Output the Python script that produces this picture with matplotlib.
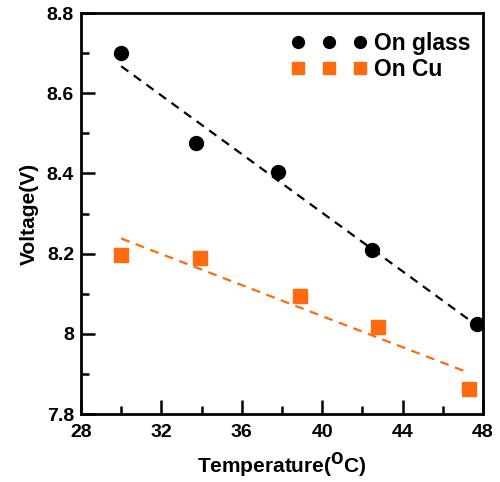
import numpy as np
import matplotlib
matplotlib.use("Agg")
import matplotlib.pyplot as plt
from matplotlib.ticker import MultipleLocator

plt.rcParams['font.family'] = ['Liberation Sans', 'DejaVu Sans']
plt.rcParams['font.weight'] = 'bold'

glass_T = [30.0, 33.7, 37.8, 42.5, 47.7]
glass_V = [8.700, 8.476, 8.404, 8.209, 8.024]
cu_T = [30.0, 33.9, 38.9, 42.8, 47.3]
cu_V = [8.196, 8.189, 8.094, 8.017, 7.862]

orange = '#FF6A10'

fig = plt.figure(figsize=(5.0, 4.82), dpi=100)
ax = fig.add_axes([0.162, 0.141, 0.804, 0.832])

ax.plot(glass_T, glass_V, 'o', color='black', markersize=10, label='On glass', linestyle='none')
ax.plot(cu_T, cu_V, 's', color=orange, markersize=9.5, label='On Cu', linestyle='none')

for T, V, c in [(glass_T, glass_V, 'black'), (cu_T, cu_V, orange)]:
    p = np.polyfit(T, V, 1)
    xs = np.array([T[0], T[-1]])
    ax.plot(xs, np.polyval(p, xs), '--', color=c, lw=1.6, dashes=(4, 3))

ax.set_xlim(28, 48)
ax.set_ylim(7.8, 8.8)
ax.xaxis.set_major_locator(MultipleLocator(4))
ax.xaxis.set_minor_locator(MultipleLocator(2))
ax.yaxis.set_minor_locator(MultipleLocator(0.1))
ax.set_yticks([7.8, 8.0, 8.2, 8.4, 8.6, 8.8])
ax.set_yticklabels(['7.8', '8', '8.2', '8.4', '8.6', '8.8'])
ax.tick_params(which='major', direction='in', length=10, width=1.8, labelsize=14)
ax.tick_params(axis='x', which='major', pad=7)
ax.tick_params(axis='y', which='major', pad=5)
ax.tick_params(which='minor', direction='in', length=6, width=1.8)
ax.tick_params(top=False, right=False, which='both')
for s in ax.spines.values():
    s.set_linewidth(2)
for lab in ax.get_xticklabels() + ax.get_yticklabels():
    lab.set_fontweight('bold')

ax.set_xlabel('Temperature($\\mathbf{^{O}}$C)', fontsize=15, fontweight='bold', labelpad=7)
ax.set_ylabel('Voltage(V)', fontsize=15, fontweight='bold', labelpad=6)

leg = ax.legend(loc='upper right', bbox_to_anchor=(0.968, 0.952), numpoints=3,
                frameon=False, borderaxespad=0, borderpad=0,
                handletextpad=0.3, handlelength=3.3, markerscale=0.85,
                labelspacing=0.1, prop={'weight': 'bold', 'size': 16.5})

fig.savefig('out.png', dpi=100)
